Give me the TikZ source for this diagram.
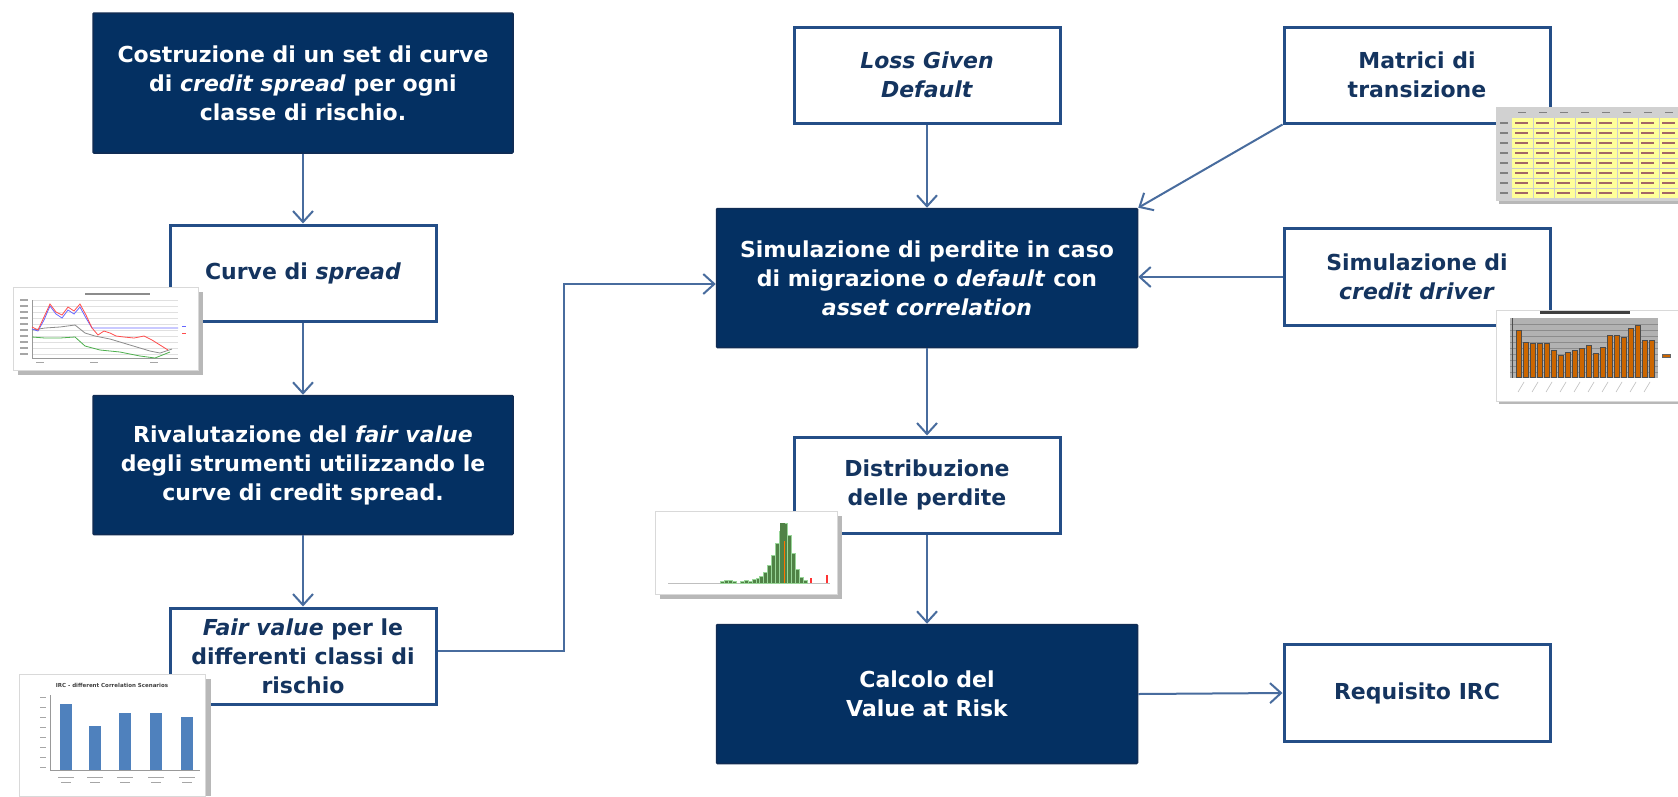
\documentclass[tikz,border=0pt]{standalone}
\usepackage{fontspec}
\setsansfont{DejaVu Sans}
\usetikzlibrary{arrows.meta}
\definecolor{navy}{RGB}{4,48,98}
\definecolor{navyedge}{RGB}{16,44,84}
\definecolor{boxedge}{RGB}{36,78,135}
\definecolor{conncol}{RGB}{72,108,158}
\definecolor{txt}{RGB}{20,52,95}
\definecolor{barblue}{RGB}{79,129,189}
\definecolor{cellyellow}{RGB}{255,255,153}
\definecolor{orangebar}{RGB}{204,102,0}
\definecolor{histgreen}{RGB}{80,130,70}
\begin{document}
\begin{tikzpicture}[x=1pt,y=-1pt,
  font=\sffamily\bfseries\fontsize{22}{29}\selectfont,
  darkbox/.style={draw=navyedge, line width=1.5pt, fill=navy, text=white, align=center, inner sep=0pt, rounded corners=1pt},
  lightbox/.style={draw=boxedge, line width=3pt, fill=white, text=txt, align=center, inner sep=0pt},
  conn/.style={draw=conncol, line width=2pt, -{Straight Barb[length=11pt,width=20pt]}},
  thumb/.style={fill=white, draw=black!15, line width=0.5pt},
  shadowbox/.style={fill=black!28},
  grid/.style={draw=black!12, line width=0.4pt}]
\useasboundingbox[fill=white] (0,0) rectangle (1678,796);

% ---------- boxes ----------
\node[darkbox, minimum width=420pt, minimum height=140pt] (b1) at (303,83)
  {Costruzione di un set di curve\\ di \textit{credit spread} per ogni\\ classe di rischio.};
\node[lightbox, minimum width=266pt, minimum height=96pt] (b2) at (303,273)
  {Curve di \textit{spread}};
\node[darkbox, minimum width=420pt, minimum height=139pt] (b3) at (303,465)
  {Rivalutazione del \textit{fair value}\\ degli strumenti utilizzando le\\ curve di credit spread.};
\node[lightbox, minimum width=266pt, minimum height=96pt] (b4) at (303,656)
  {\textit{Fair value} per le\\ differenti classi di\\ rischio};
\node[lightbox, minimum width=266pt, minimum height=96pt] (lgd) at (927,75)
  {\textit{Loss Given}\\ \textit{Default}};
\node[darkbox, minimum width=421pt, minimum height=139pt] (sim) at (927,278)
  {Simulazione di perdite in caso\\ di migrazione o \textit{default} con\\ \textit{asset correlation}};
\node[lightbox, minimum width=266pt, minimum height=96pt] (mat) at (1417,75)
  {Matrici di\\ transizione};
\node[lightbox, minimum width=266pt, minimum height=97pt] (cd) at (1417,277)
  {Simulazione di\\ \textit{credit driver}};
\node[lightbox, minimum width=266pt, minimum height=96pt] (dist) at (927,485)
  {Distribuzione\\ delle perdite};
\node[darkbox, minimum width=421pt, minimum height=139pt] (calc) at (927,694)
  {Calcolo del\\ Value at Risk};
\node[lightbox, minimum width=266pt, minimum height=97pt] (req) at (1417,693)
  {Requisito IRC};

% ---------- connectors ----------
\draw[conn] (b1) -- (b2);
\draw[conn] (b2) -- (b3);
\draw[conn] (b3) -- (b4);
\coordinate (k1) at (564,651);
\coordinate (k2) at (564,284);
\draw[conn] (b4.east |- k1) -- (k1) -- (k2) -- (sim.west |- k2);
\draw[conn] (lgd) -- (sim);
\draw[conn] (mat.south west) -- (sim.north east);
\draw[conn] (cd.west) -- (sim.east |- cd.west);
\draw[conn] (sim) -- (dist);
\draw[conn] (dist) -- (calc);
\draw[conn] (calc.east) -- (req.west);

% ---------- thumbnail: spread curves ----------
\fill[shadowbox] (18,292) rectangle (203,375);
\filldraw[thumb] (13,287) rectangle (198,370);
\fill[black!45] (85,293) rectangle (150,295);
\foreach \y in {300,306,...,354} \draw[grid] (32,\y) -- (178,\y);
\draw[black!40, line width=0.4pt] (32,300) -- (32,358) -- (178,358);
\foreach \y in {300,306,...,354} \fill[black!35] (20,\y-0.6) rectangle (28,\y+0.6);
\draw[green!55!black!70, line width=0.8pt] (32,337) -- (45,338) -- (60,338) -- (75,337) -- (85,346) -- (100,350) -- (120,352) -- (140,356) -- (155,358) -- (170,352);
\draw[black!45, line width=0.8pt] (32,330) -- (45,328) -- (60,327) -- (75,325) -- (85,333) -- (95,336) -- (110,339) -- (130,345) -- (150,351) -- (160,353) -- (172,349);
\draw[blue!60, line width=0.8pt] (32,329) -- (38,331) -- (44,320) -- (50,306) -- (56,314) -- (62,318) -- (68,310) -- (74,314) -- (80,307) -- (86,318) -- (92,328) -- (178,328);
\draw[red!70, line width=0.8pt] (32,327) -- (38,330) -- (44,317) -- (50,304) -- (56,312) -- (62,315) -- (68,307) -- (74,311) -- (80,304) -- (86,315) -- (92,328) -- (98,335) -- (104,331) -- (110,333) -- (116,336) -- (124,337) -- (134,338) -- (144,336) -- (152,340) -- (160,345) -- (168,350);
\draw[blue!60, line width=0.8pt] (182,326) -- (186,326);
\draw[red!70, line width=0.8pt] (182,333) -- (186,333);
\foreach \x in {36,90,150} \fill[black!35] (\x,362) rectangle (\x+8,363.2);

% ---------- thumbnail: IRC scenarios ----------
\fill[shadowbox] (24,679) rectangle (211,796);
\filldraw[thumb] (19,674) rectangle (205,796);
\node[text=black!75, font=\sffamily\bfseries\fontsize{5.5}{6}\selectfont] (irct) at (112,685) {IRC - different Correlation Scenarios};
\foreach \y in {697,707,...,767} \fill[black!35] (40,\y-0.5) rectangle (46,\y+0.5);
\draw[black!40, line width=0.4pt] (50,695) -- (50,770) -- (200,770);
\foreach \x/\t in {66/704, 95/726, 125/713, 156/713, 187/717}
  \fill[barblue] (\x-6,\t) rectangle (\x+6,770);
\foreach \x in {66,95,125,156,187} {\fill[black!35] (\x-8,777) rectangle (\x+8,778.2); \fill[black!35] (\x-5,782) rectangle (\x+5,783.2);}

% ---------- thumbnail: transition matrix ----------
\fill[shadowbox] (1499,110) rectangle (1678,204);
\fill[black!18] (1496,107) rectangle (1678,201);
\fill[cellyellow] (1512,118) rectangle (1678,198);
\foreach \y in {128,138,...,188} \draw[black!20, line width=0.4pt] (1512,\y) -- (1678,\y);
\foreach \x in {1533,1554,1575,1596,1617,1638,1659} \draw[black!20, line width=0.4pt] (\x,118) -- (\x,198);
\foreach \y in {123,133,...,193}
  \foreach \x in {1515,1536,1557,1578,1599,1620,1641,1662}
    \fill[red!40!black!60] (\x,\y-0.7) rectangle (\x+13,\y+0.7);
\foreach \y in {123,133,...,193} \fill[black!50] (1500,\y-0.7) rectangle (1508,\y+0.7);
\foreach \x in {1518,1539,1560,1581,1602,1623,1644,1665} \fill[black!50] (\x,111.5) rectangle (\x+8,113);

% ---------- thumbnail: credit driver bars ----------
\fill[shadowbox] (1499,313) rectangle (1678,404);
\filldraw[thumb] (1496,310) rectangle (1678,401);
\fill[black!75] (1540,311) rectangle (1630,314);
\fill[black!30] (1510,318) rectangle (1658,378);
\foreach \y in {324,330,...,372} \draw[black!45, line width=0.3pt] (1510,\y) -- (1658,\y);
\draw[black!70, line width=0.8pt] (1512,318) -- (1512,378);
\foreach \x/\t in {1516/330,1523/342,1530/343,1537/343,1544/343,1551/350,1558/355,1565/352,1572/350,1579/348,1586/345,1593/353,1600/347,1607/335,1614/335,1621/337,1628/328,1635/325,1642/340,1649/340}
  \filldraw[fill=orangebar, draw=black!70, line width=0.4pt] (\x,\t) rectangle (\x+5,377);
\foreach \x in {1518,1532,1546,1560,1574,1588,1602,1616,1630,1644}
  \draw[black!25, line width=0.6pt] (\x,392) -- (\x+6,382);
\filldraw[fill=orangebar, draw=black!60, line width=0.4pt] (1662,354) rectangle (1670,357);

% ---------- thumbnail: loss distribution ----------
\fill[shadowbox] (660,516) rectangle (842,599);
\filldraw[thumb] (655,511) rectangle (837,594);
\draw[black!25, line width=0.5pt] (668,583) -- (830,583);
\foreach \x/\h in {720/2,724/3,728/3,732/2,740/2,744/3,748/2,752/4,756/5,759/7,763/11,767/18,771/28,775/40,779/52,783/60,787/48,791/30,795/14,799/6,803/3}
  \filldraw[fill=histgreen, draw=green!60!black!40, line width=0.3pt] (\x,583-\h) rectangle (\x+4,583);
\fill[histgreen] (780,523) rectangle (785,583);
\draw[orange!90!red, line width=1pt] (784,541) -- (784,583);
\fill[red!80] (810,578) rectangle (812,583);
\fill[red!80] (826,575) rectangle (828,583);
\end{tikzpicture}
\end{document}
